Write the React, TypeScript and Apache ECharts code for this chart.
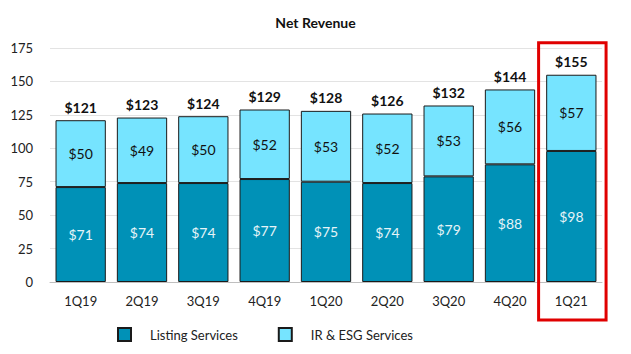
import React, { useEffect, useRef } from "react";
import * as echarts from "echarts";

const categories = ["1Q19", "2Q19", "3Q19", "4Q19", "1Q20", "2Q20", "3Q20", "4Q20", "1Q21"];
const listingServices = [71, 74, 74, 77, 75, 74, 79, 88, 98];
const irEsgServices = [50, 49, 50, 52, 53, 52, 53, 56, 57];
const totals = [121, 123, 124, 129, 128, 126, 132, 144, 155];
const yTicks = { min: 0, max: 175, interval: 25 };
const highlighted = "1Q21";

const FONT = "Lato, 'Open Sans', sans-serif";

export default function App() {
  const ref = useRef<HTMLDivElement>(null);
  useEffect(() => {
    if (!ref.current) return;
    const chart = echarts.init(ref.current, undefined, { renderer: "svg" });
    chart.setOption({
      animation: false,
      backgroundColor: "#ffffff",
      textStyle: { fontFamily: FONT },
      title: {
        text: "Net Revenue",
        left: "center",
        top: 10,
        textStyle: { fontSize: 14, fontWeight: "bold", color: "#111", fontFamily: FONT },
      },
      grid: { left: 50, right: 29, top: 48, bottom: 72, containLabel: false },
      legend: {
        data: ["Listing Services", "IR & ESG Services"],
        bottom: 7,
        left: 112,
        itemWidth: 13,
        itemHeight: 13,
        itemGap: 40,
        icon: "rect",
        textStyle: { fontSize: 13, color: "#222", fontFamily: FONT, padding: [0, 0, 0, 14] },
      },
      xAxis: {
        type: "category",
        data: categories,
        axisLine: { show: true, lineStyle: { color: "#bfbfbf", width: 1 } },
        axisTick: { show: false },
        axisLabel: { fontSize: 13, color: "#222", margin: 12, fontFamily: FONT },
      },
      yAxis: {
        type: "value",
        min: yTicks.min,
        max: yTicks.max,
        interval: yTicks.interval,
        axisLine: { show: false },
        axisTick: { show: false },
        axisLabel: { fontSize: 13, color: "#222", margin: 17, fontFamily: FONT },
        splitLine: { lineStyle: { color: "#e3e3e3", width: 1 } },
      },
      series: [
        {
          name: "Listing Services",
          type: "bar",
          stack: "rev",
          data: listingServices,
          barCategoryGap: "18%",
          itemStyle: { color: "#0091B7", borderColor: "#1a1a1a", borderWidth: 1 },
          label: {
            show: true,
            position: "inside",
            formatter: (p: any) => "$" + p.value,
            color: "#e6f4f8",
            fontSize: 14,
            fontFamily: FONT,
          },
        },
        {
          name: "IR & ESG Services",
          type: "bar",
          stack: "rev",
          data: irEsgServices,
          itemStyle: { color: "#76E4FF", borderColor: "#1a1a1a", borderWidth: 1 },
          label: {
            show: true,
            position: "inside",
            formatter: (p: any) => "$" + p.value,
            color: "#111",
            fontSize: 14,
            fontFamily: FONT,
          },
        },
        {
          name: "Total",
          type: "bar",
          stack: "rev",
          data: totals.map(() => 0),
          itemStyle: { color: "transparent", borderWidth: 0 },
          label: {
            show: true,
            position: "top",
            distance: 6,
            formatter: (p: any) => "$" + totals[p.dataIndex],
            color: "#111",
            fontSize: 14,
            fontWeight: "bold",
            fontFamily: FONT,
          },
          tooltip: { show: false },
        },
      ],
    });
    const idx = categories.indexOf(highlighted);
    const cx = chart.convertToPixel({ xAxisIndex: 0 }, highlighted) as number;
    const cat = (chart.convertToPixel({ xAxisIndex: 0 }, categories[1]) as number) -
      (chart.convertToPixel({ xAxisIndex: 0 }, categories[0]) as number);
    const yTop = chart.convertToPixel({ yAxisIndex: 0 }, totals[idx]) as number;
    const yBottom = chart.convertToPixel({ yAxisIndex: 0 }, 0) as number;
    const w = cat * 1.1;
    chart.setOption({
      graphic: [
        {
          type: "rect",
          shape: { x: cx - w / 2 + 1, y: yTop - 32, width: w, height: yBottom - yTop + 70 },
          style: { fill: "none", stroke: "#e00000", lineWidth: 3 },
          z: 100,
        },
      ],
    });
    return () => chart.dispose();
  }, []);
  return (
    <div
      ref={ref}
      style={{ position: "fixed", left: 0, top: 0, width: 631, height: 354 }}
    />
  );
}
